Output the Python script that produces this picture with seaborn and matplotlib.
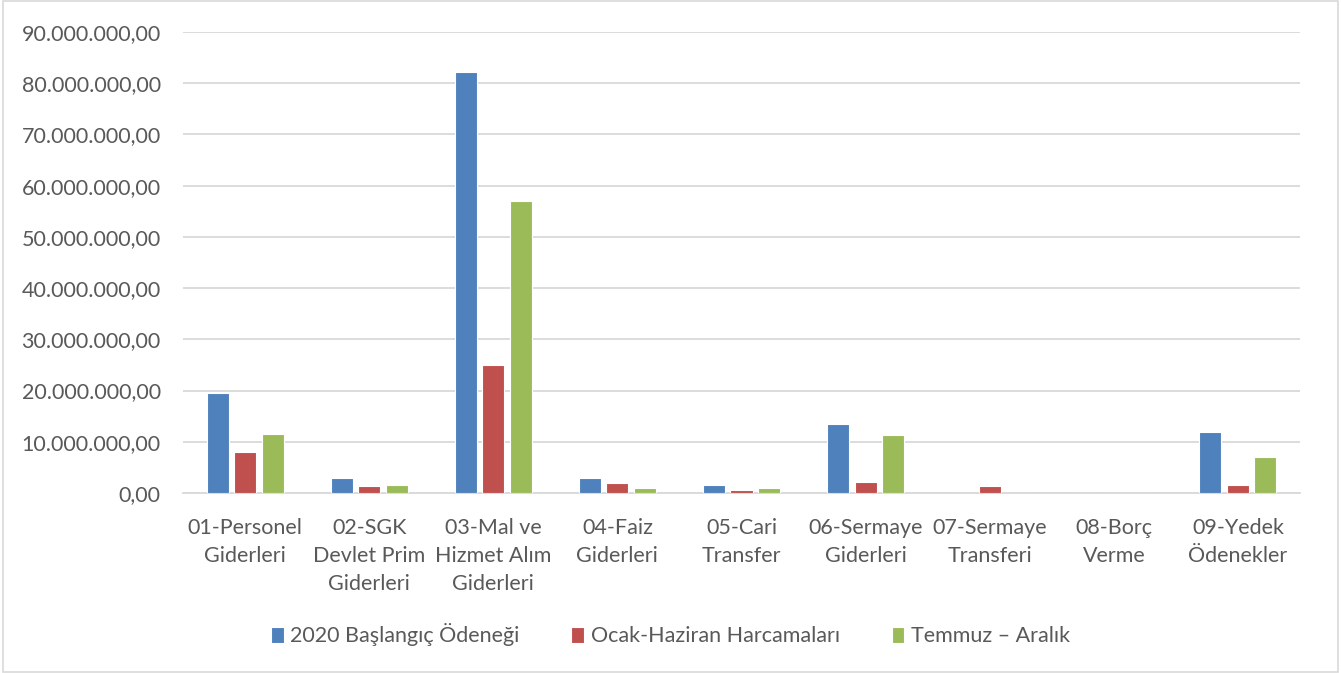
import matplotlib
matplotlib.use("Agg")
import matplotlib.pyplot as plt
import seaborn as sns
import pandas as pd
from matplotlib.patches import Rectangle
from matplotlib.ticker import FuncFormatter

categories = ["01-Personel\nGiderleri", "02-SGK\nDevlet Prim\nGiderleri", "03-Mal ve\nHizmet Alım\nGiderleri",
              "04-Faiz\nGiderleri", "05-Cari\nTransfer", "06-Sermaye\nGiderleri", "07-Sermaye\nTransferi",
              "08-Borç\nVerme", "09-Yedek\nÖdenekler"]
series_names = ["2020 Başlangıç Ödeneği", "Ocak-Haziran Harcamaları", "Temmuz – Aralık"]
baslangic = [19.5e6, 2.9e6, 82.2e6, 2.9e6, 1.6e6, 13.5e6, 0, 0, 12.0e6]
ocak_haziran = [8.0e6, 1.4e6, 25.0e6, 1.9e6, 0.6e6, 2.1e6, 1.4e6, 0, 1.5e6]
temmuz_aralik = [11.5e6, 1.5e6, 57.0e6, 1.0e6, 1.0e6, 11.3e6, 0, 0, 7.0e6]
colors = ["#4F81BD", "#C0504D", "#9BBB59"]

rows = []
for name, vals in zip(series_names, [baslangic, ocak_haziran, temmuz_aralik]):
    for c, v in zip(categories, vals):
        rows.append({"cat": c, "series": name, "value": v})
df = pd.DataFrame(rows)

sns.set_style("white")
plt.rcParams['font.family'] = ['Lato', 'DejaVu Sans']

fig = plt.figure(figsize=(13.41, 6.73), dpi=100)
ax = fig.add_axes([183/1341, 1-493/673, (1300-183)/1341, (493-32)/673])

sns.barplot(data=df, x="cat", y="value", hue="series", palette=colors, ax=ax,
            width=0.665, gap=0.2, edgecolor="white", linewidth=0.8, saturation=1, zorder=3)

ax.set_ylim(0, 90e6)
ax.set_xlim(-0.5, 8.5)
ax.set_yticks([i * 10e6 for i in range(10)])
ax.yaxis.set_major_formatter(FuncFormatter(lambda v, p: f"{v:,.2f}".replace(",", "X").replace(".", ",").replace("X", ".")))
ax.grid(axis="y", color="#D9D9D9", linewidth=1.3, zorder=0)
ax.set_axisbelow(True)
for s in ["top", "right", "left"]:
    ax.spines[s].set_visible(False)
ax.spines["bottom"].set_color("#D9D9D9")
ax.spines["bottom"].set_linewidth(1.3)
ax.set_xlabel("")
ax.set_ylabel("")
ax.tick_params(axis="y", length=0, pad=16, labelsize=15.5, labelcolor="#595959")
ax.tick_params(axis="x", length=0, pad=18, labelsize=15.5, labelcolor="#595959")
for t in ax.get_xticklabels():
    t.set_linespacing(1.5)

handles, labels = ax.get_legend_handles_labels()
ax.legend(handles, labels, loc="center", bbox_to_anchor=(0.5 , 1 - 635/673), bbox_transform=fig.transFigure,
          ncol=3, frameon=False, fontsize=15.5, labelcolor="#595959", handlelength=0.6, handleheight=0.7,
          handletextpad=0.3, columnspacing=2.4)

fig.patches.append(Rectangle((0.002, 0.002), 0.996, 0.996, transform=fig.transFigure,
                             fill=False, edgecolor="#D9D9D9", linewidth=1.2))

fig.savefig("out.png", dpi=100)
